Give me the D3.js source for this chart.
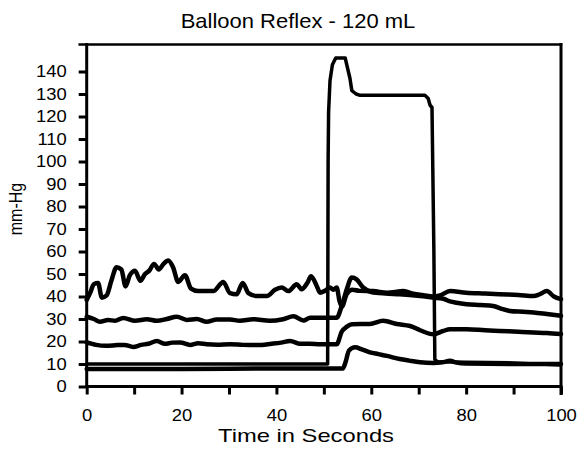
<!DOCTYPE html>
<html>
<head>
<meta charset="utf-8">
<script src="https://cdn.jsdelivr.net/npm/d3@7"></script>
<style>
  body { margin: 0; background: #fff; }
  svg { display: block; font-family: "Liberation Sans", Arial, Helvetica, sans-serif; }
</style>
</head>
<body>
<svg id="chart"></svg>
<script>
// traces: [seconds, mm-Hg]
const traceA = [[0,38.5],[0.8,42],[1.5,45.5],[2.4,46],[3.2,39.5],[4.2,40.5],[5.2,47],[6.3,53],[7.3,52],[8.2,44.5],
  [9.1,49.5],[10.2,51.5],[11.3,47],[12.3,50],[13.2,51.5],[14.2,54.5],[15.2,52],[16.2,54.5],[17.2,56],[18.2,53],
  [19.3,46.5],[20.7,49.5],[22,43.5],[23.5,42.4],[25,42.5],[26.7,42.4],[28.8,46.5],[30.2,41.5],[31.6,41],[32.9,46],
  [34.1,41.5],[35.8,40.2],[38,40.2],[39.7,43],[41.1,44],[42.5,42.4],[44.3,45.4],[45.3,43.2],[46.5,46],[47.3,49],
  [48.5,44.7],[49.2,41.7],[50.2,42.5],[51.3,44],[52,43],[52.7,44],[53.3,38],[53.8,35.5],[54.8,41],[56,43],
  [57.5,42.5],[60.4,42.4],[63.3,41.7],[66.8,42.4],[68.9,41.2],[71,40.6],[73,40],[74.5,40.5],[76.6,42.4],[80,41.7],
  [84,41.3],[87,41],[91,40.7],[94.2,40.2],[95.5,41],[97,42.4],[98.5,40],[100,38.8]];

const traceB = [[0,31],[1.5,30],[2.8,28.8],[4.5,29.6],[6,29.2],[7.7,30.5],[10.2,29.2],[12.7,29.9],[14.8,29.2],
  [16.9,30],[19,31],[21.1,29.6],[23.2,30],[25.3,28.8],[27.4,29.8],[30.2,29.8],[32.3,29.2],[35.1,29.9],[38.6,29.2],
  [41.4,29.9],[43.6,31.2],[45.7,29.3],[47.1,30.6],[49.2,30.6],[52.7,30.6],[53.8,36],[54.8,43],[55.9,48.4],
  [56.9,47.6],[58.3,44],[60,42],[63,41.3],[66,41],[70.3,40.2],[73,39.5],[75.2,39],[76.6,37.8],[78,37.2],
  [80.1,36.6],[83,36.2],[85.7,35.8],[87.5,34.5],[89.2,33.6],[92,33.2],[94.2,32.9],[97,32.2],[100,31.4]];

const traceC = [[0,19.6],[2,18.5],[4,18.1],[6.5,18.4],[8,18.5],[9.8,17.6],[11.5,18.5],[13,19],[14.8,20.2],
  [16.5,19],[18,19.5],[19.7,19.6],[21.8,18.5],[23.5,19.2],[25.3,18.8],[27.5,18.6],[30.2,18.8],[33,18.5],
  [36,18.4],[39,19],[41,19.5],[42.9,20.2],[45,19],[47,19],[49.2,18.8],[52.7,18.8],[53.8,24.5],[54.8,26.5],
  [55.9,27.7],[59.7,27.8],[62.5,29.2],[65.4,27.8],[68.2,26.9],[70.3,25],[73.1,23.2],[75.2,24.7],[76.6,25.5],
  [80.1,25.5],[84,25],[87.1,24.7],[91,24.3],[94.2,24],[97,23.8],[100,23.3]];

const traceD = [[0,7.8],[20,7.8],[40,8],[54,8],[54.6,11],[55.3,16],[56.6,17.4],[58,16.5],[59.7,15.2],[61.5,14.4],
  [63.3,13.6],[66,12.2],[68,11.5],[70.3,10.8],[73.1,10.5],[75,10.8],[76.6,11.4],[78,10.6],[80,10.2],[90,10],[100,10]];

// balloon pressure
const balloon = [[0,10],[50.8,10],[50.9,100],[51,122],[51.3,136],[51.8,143],[52.5,146],[54.5,146],[55.5,137],
  [55.9,131.5],[56.8,130],[57.5,129.5],[71.3,129.5],[72,128],[72.4,125],[72.8,124],[73.2,60],[73.4,12],[74,11],
  [80,10.8],[90,10.5],[100,9.5]];

const xTicks = [0,10,20,30,40,50,60,70,80,90,100];
const xLabels = [0,20,40,60,80,100];
const yTicks = [0,10,20,30,40,50,60,70,80,90,100,110,120,130,140];

const titleText = "Balloon Reflex - 120 mL";
const xTitle = "Time in Seconds";
const yTitle = "mm-Hg";

const width = 582, height = 457;
const stretch = 1.15; // scan is a bit wider than tall

const svg = d3.select("#chart").attr("width", width).attr("height", height);

const x = d3.scaleLinear().domain([0, 100]).range([86.7, 561]);
const y = d3.scaleLinear().domain([0, 152]).range([386.5, 44.5]);

// axes
const xAxis = svg.append("g")
  .attr("transform", `translate(0,${y(0)})`)
  .call(d3.axisBottom(x).tickValues(xTicks).tickSize(8).tickSizeOuter(0).tickPadding(15)
    .tickFormat(d => xLabels.includes(d) ? d : ""));

const yAxis = svg.append("g")
  .attr("transform", `translate(${x(0)},0)`)
  .call(d3.axisLeft(y).tickValues(yTicks).tickSize(8).tickSizeOuter(0).tickPadding(12));

[xAxis, yAxis].forEach(g => {
  g.select(".domain").remove();
  g.selectAll(".tick line").attr("stroke", "#000").attr("stroke-width", 3);
  g.selectAll(".tick text").attr("fill", "#000").attr("font-size", 16);
});
xAxis.selectAll(".tick text").attr("transform", `scale(${stretch},1)`);
yAxis.selectAll(".tick text")
  .attr("x", -20 / stretch)
  .attr("transform", `scale(${stretch},1)`);

// frame
const frame = svg.append("g").attr("stroke", "#000").attr("stroke-linecap", "square");
frame.append("line").attr("x1", x(0)).attr("x2", x(0)).attr("y1", y(152)).attr("y2", y(0)).attr("stroke-width", 3);
frame.append("line").attr("x1", x(0) - 7).attr("x2", x(100)).attr("y1", y(152)).attr("y2", y(152)).attr("stroke-width", 2.5);
frame.append("line").attr("x1", x(100)).attr("x2", x(100)).attr("y1", y(152)).attr("y2", y(0) + 7).attr("stroke-width", 3);
frame.append("line").attr("x1", x(0)).attr("x2", x(100)).attr("y1", y(0)).attr("y2", y(0)).attr("stroke-width", 3);

// traces
const line = d3.line().x(d => x(d[0])).y(d => y(d[1])).curve(d3.curveMonotoneX);
const straight = d3.line().x(d => x(d[0])).y(d => y(d[1]));

svg.append("g")
  .attr("fill", "none")
  .attr("stroke", "#000")
  .attr("stroke-linejoin", "round")
  .attr("stroke-linecap", "round")
  .selectAll("path")
  .data([traceA, traceB, traceC, traceD])
  .join("path")
  .attr("stroke-width", 4.5)
  .attr("d", d => line(d));

svg.append("path")
  .attr("fill", "none")
  .attr("stroke", "#000")
  .attr("stroke-width", 3.5)
  .attr("stroke-linejoin", "round")
  .attr("d", straight(balloon));

// titles
svg.append("text")
  .attr("transform", `translate(298,28) scale(1.1,1)`)
  .attr("text-anchor", "middle")
  .attr("font-size", 20)
  .text(titleText);

svg.append("text")
  .attr("transform", `translate(306,442) scale(1.25,1)`)
  .attr("text-anchor", "middle")
  .attr("font-size", 19)
  .text(xTitle);

svg.append("text")
  .attr("transform", `translate(22,209) rotate(-90) scale(1,1.15)`)
  .attr("text-anchor", "middle")
  .attr("font-size", 16)
  .text(yTitle);
</script>
</body>
</html>
